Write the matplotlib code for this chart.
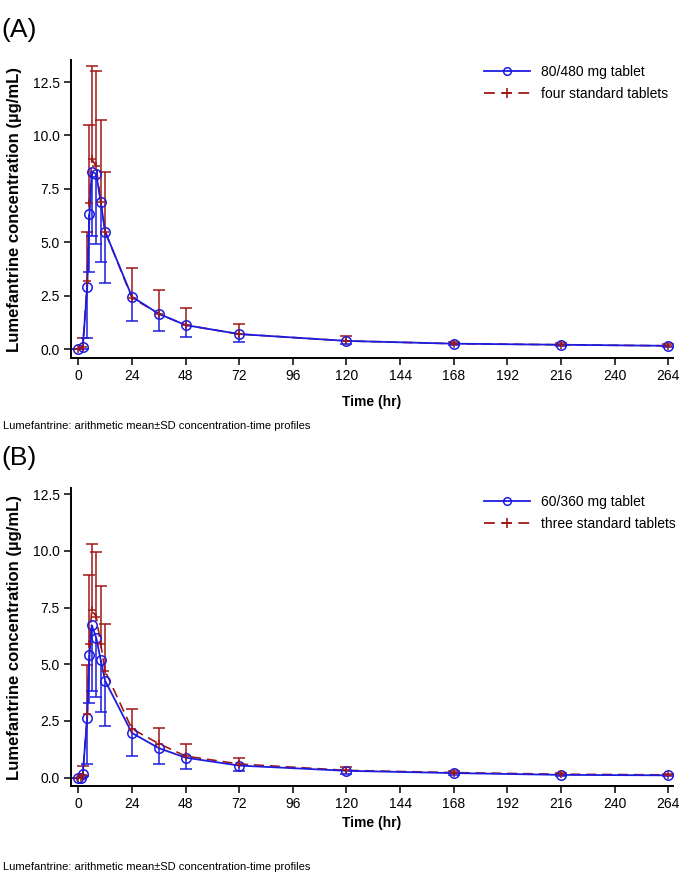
import numpy as np
import matplotlib
matplotlib.use("Agg")
import matplotlib.pyplot as plt
from matplotlib.lines import Line2D

plt.rcParams['font.family'] = ['Liberation Sans', 'DejaVu Sans']

# ---------------- data ----------------
times_A = [0, 2, 4, 5, 6, 8, 10, 12, 24, 36, 48, 72, 120, 168, 216, 264]
new_mean_A = [0.0, 0.1, 2.9, 6.3, 8.3, 8.2, 6.9, 5.5, 2.45, 1.65, 1.12, 0.7, 0.38, 0.25, 0.2, 0.15]
new_sd_A = [0.0, 0.1, 2.37, 2.7, 3.0, 3.3, 2.84, 2.4, 1.13, 0.79, 0.54, 0.36, 0.15, 0.08, 0.08, 0.05]
std_mean_A = [0.0, 0.1, 3.2, 6.85, 8.9, 8.55, 6.9, 5.5, 2.4, 1.65, 1.12, 0.7, 0.38, 0.25, 0.2, 0.15]
std_sd_A = [0.0, 0.4, 2.3, 3.65, 4.35, 4.45, 3.8, 2.8, 1.38, 1.1, 0.81, 0.47, 0.24, 0.1, 0.1, 0.07]

times_B = [0, 1, 2, 4, 5, 6, 8, 10, 12, 24, 36, 48, 72, 120, 168, 216, 264]
new_mean_B = [0.0, 0.0, 0.18, 2.65, 5.4, 6.72, 6.17, 5.2, 4.27, 1.97, 1.3, 0.88, 0.53, 0.3, 0.2, 0.12, 0.1]
new_sd_B = [0.0, 0.0, 0.1, 2.05, 2.1, 2.9, 2.6, 2.3, 2.0, 1.0, 0.72, 0.5, 0.23, 0.15, 0.1, 0.06, 0.05]
std_mean_B = [0.0, 0.0, 0.1, 2.8, 5.9, 7.4, 7.1, 5.9, 4.7, 2.15, 1.5, 0.95, 0.6, 0.32, 0.22, 0.15, 0.12]
std_sd_B = [0.0, 0.0, 0.4, 2.15, 3.05, 2.9, 2.83, 2.56, 2.08, 0.89, 0.7, 0.54, 0.25, 0.13, 0.08, 0.05, 0.05]

labels_A = ["80/480 mg tablet", "four standard tablets"]
labels_B = ["60/360 mg tablet", "three standard tablets"]
x_ticks = list(range(0, 265, 24))
y_ticks = [0.0, 2.5, 5.0, 7.5, 10.0, 12.5]
panel_tags = ["(A)", "(B)"]
x_label = "Time (hr)"
y_label = "Lumefantrine concentration (µg/mL)"
caption = "Lumefantrine: arithmetic mean±SD concentration-time profiles"

BLUE = '#1c1ce0'
RED = '#a01818'

W, H = 685, 880
fig = plt.figure(figsize=(W / 100, H / 100), dpi=100)


def fx(px):
    return px / W


def fy(py):
    return 1 - py / H


def draw_panel(ax, t, nm, nsd, sm, ssd, ylim):
    t = np.array(t, float)
    nm = np.array(nm); nsd = np.array(nsd)
    sm = np.array(sm); ssd = np.array(ssd)
    # standard tablets: upward SD
    e1 = ax.errorbar(t, sm, yerr=[np.zeros_like(ssd), ssd], color=RED, ls=(0, (6, 3.5)),
                     lw=1.2, elinewidth=1.1, capsize=4, capthick=1.1, marker='none', zorder=2)
    e1[1][0].set_visible(False)
    # new tablet: downward SD
    e2 = ax.errorbar(t, nm, yerr=[nsd, np.zeros_like(nsd)], color=BLUE, ls='-', lw=1.3,
                     elinewidth=1.1, capsize=4, capthick=1.1, marker='o', ms=6.8,
                     mfc='none', mec=BLUE, mew=1.1, zorder=3)
    e2[1][1].set_visible(False)
    ax.plot(t, sm, ls='none', marker='+', ms=6, mew=1.1, color=RED, zorder=4)

    ax.set_xlim(-3.27, 266.1)
    ax.set_ylim(*ylim)
    ax.set_xticks(x_ticks)
    ax.set_yticks(y_ticks)
    ax.set_yticklabels([f"{v:.1f}" for v in y_ticks])
    for s in ['top', 'right']:
        ax.spines[s].set_visible(False)
    for s in ['left', 'bottom']:
        ax.spines[s].set_linewidth(1.4)
    ax.tick_params(axis='both', direction='out', length=5, width=1.1, labelsize=10, pad=3)

    handles = [
        Line2D([0], [0], color=BLUE, lw=1.3, marker='o', ms=5.5, mfc='none', mew=1.1),
        Line2D([0], [0], color=RED, lw=1.3, ls=(0, (6, 3.5)), marker='+', ms=7, mew=1.2),
    ]
    return handles


leg_kw = dict(loc='upper left', bbox_transform=fig.transFigure, frameon=False, fontsize=10,
              handlelength=3.3, handletextpad=0.8, labelspacing=0.55, borderpad=0,
              borderaxespad=0)

# panel A
axA = fig.add_axes([fx(71), fy(358), fx(673) - fx(71), fy(60) - fy(358)])
hA = draw_panel(axA, times_A, new_mean_A, new_sd_A, std_mean_A, std_sd_A, (-0.42, 13.53))
fig.legend(hA, labels_A, bbox_to_anchor=(fx(484), fy(65)), **leg_kw)

# panel B
axB = fig.add_axes([fx(71), fy(786), fx(673) - fx(71), fy(488) - fy(786)])
hB = draw_panel(axB, times_B, new_mean_B, new_sd_B, std_mean_B, std_sd_B, (-0.37, 12.77))
fig.legend(hB, labels_B, bbox_to_anchor=(fx(484), fy(495)), **leg_kw)

# texts
fig.text(fx(1), fy(30), panel_tags[0], fontsize=19, ha='left', va='center')
fig.text(fx(1), fy(458), panel_tags[1], fontsize=19, ha='left', va='center')

for ytop, ybot, ytime, ycap in [(60, 358, 402, 426), (488, 786, 823, 867)]:
    fig.text(fx(15), fy((ytop + ybot) / 2), y_label, rotation=90, fontsize=12,
             fontweight='bold', ha='center', va='center')
    fig.text(fx(372), fy(ytime), x_label, fontsize=10, fontweight='bold', ha='center', va='center')
    fig.text(fx(3), fy(ycap), caption, fontsize=8, ha='left', va='center')

fig.savefig('out.png', dpi=100)
